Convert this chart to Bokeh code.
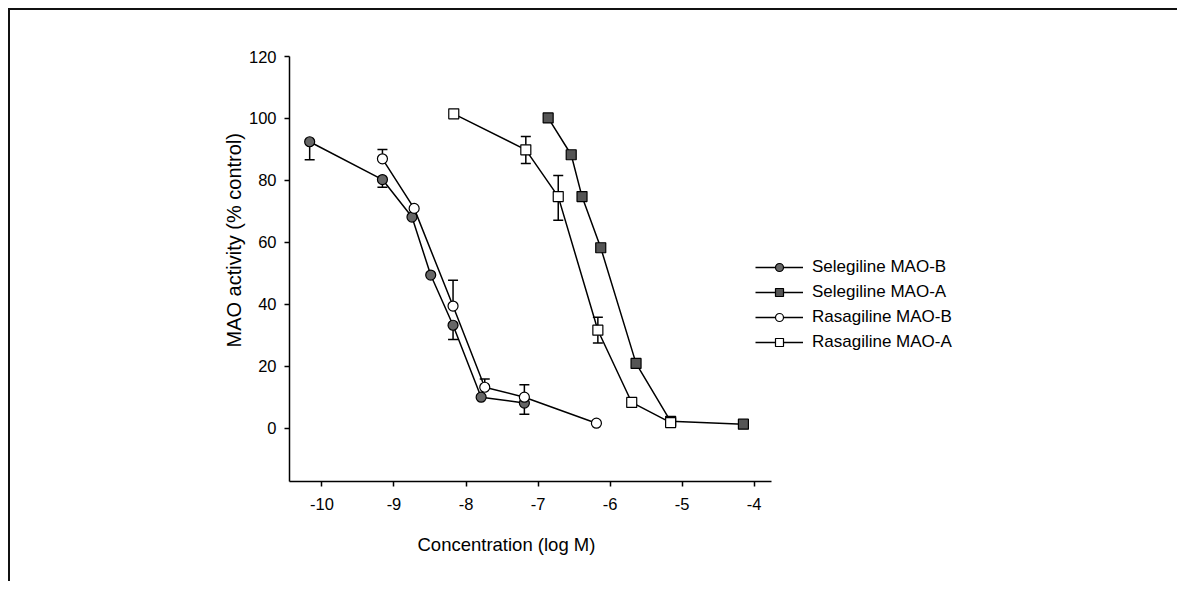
import math
from bokeh.plotting import figure
from bokeh.models import (ColumnDataSource, Whisker, TeeHead, FixedTicker,
                          Legend, LegendItem, Range1d, Title, CustomJSTickFormatter)
from bokeh.embed import file_html
from bokeh.resources import INLINE

nan = float("nan")

# ---- data (log M concentration, % control) ----
sel_b_x = [-10.17, -9.16, -8.75, -8.49, -8.18, -7.79, -7.19]
sel_b_y = [92.5, 80.3, 68.2, 49.5, 33.3, 10.1, 8.2]
sel_b_lo = [86.7, 77.8, nan, nan, 28.7, nan, 4.6]
sel_b_hi = [nan, nan, nan, nan, nan, nan, nan]

sel_a_x = [-6.86, -6.54, -6.39, -6.13, -5.64, -5.16, -4.15]
sel_a_y = [100.2, 88.3, 74.8, 58.3, 21.0, 2.3, 1.4]
sel_a_lo = [nan] * 7
sel_a_hi = [nan] * 7

ras_b_x = [-9.16, -8.72, -8.18, -7.74, -7.19, -6.19]
ras_b_y = [87.0, 71.0, 39.5, 13.3, 10.1, 1.7]
ras_b_lo = [nan] * 6
ras_b_hi = [90.0, nan, 47.8, 16.0, 14.1, nan]

ras_a_x = [-8.17, -7.17, -6.72, -6.17, -5.70, -5.16]
ras_a_y = [101.5, 89.9, 74.8, 31.7, 8.4, 1.9]
ras_a_lo = [nan, 85.5, 67.2, 27.6, nan, nan]
ras_a_hi = [nan, 94.2, 81.6, 35.9, nan, nan]

x_ticks = [-10, -9, -8, -7, -6, -5, -4]
y_ticks = [0, 20, 40, 60, 80, 100, 120]

x_title = "Concentration (log M)"
y_title = "MAO activity (% control)"

series = [
    ("Selegiline MAO-B", sel_b_x, sel_b_y, sel_b_lo, sel_b_hi, "circle", "#666666", 10),
    ("Selegiline MAO-A", sel_a_x, sel_a_y, sel_a_lo, sel_a_hi, "square", "#555555", 10),
    ("Rasagiline MAO-B", ras_b_x, ras_b_y, ras_b_lo, ras_b_hi, "circle", "white", 10),
    ("Rasagiline MAO-A", ras_a_x, ras_a_y, ras_a_lo, ras_a_hi, "square", "white", 10),
]

FONT = "Liberation Sans"

p = figure(frame_width=482, frame_height=425, output_backend="svg", toolbar_location=None,
           x_range=Range1d(-10.45, -3.76), y_range=Range1d(-17.1, 120),
           min_border_left=279, min_border_right=100,
           min_border_top=46, min_border_bottom=100)
p.styles = {"border-top": "2px solid #111111", "border-left": "2px solid #111111",
            "margin-top": "8px", "margin-left": "8px"}
p.outline_line_color = None
p.xgrid.visible = False
p.ygrid.visible = False
p.background_fill_color = "white"
p.border_fill_color = "white"

for ax in (p.xaxis[0], p.yaxis[0]):
    ax.axis_line_width = 1.5
    ax.axis_line_color = "black"
    ax.major_tick_line_width = 1.5
    ax.major_tick_line_color = "black"
    ax.major_tick_out = 5
    ax.major_tick_in = 0
    ax.minor_tick_out = 0
    ax.minor_tick_in = 0
    ax.major_label_text_font = FONT
    ax.major_label_text_font_size = "16.5px"
    ax.major_label_text_color = "black"
    ax.formatter = CustomJSTickFormatter(code="return tick.toString()")

p.xaxis.ticker = FixedTicker(ticks=x_ticks)
p.yaxis.ticker = FixedTicker(ticks=y_ticks)
p.xaxis.major_label_standoff = 11
p.yaxis.major_label_standoff = 8

# axis titles (offset like the original, which is not centred on the frame)
p.add_layout(Title(text=x_title, align="left", offset=128, standoff=38,
                   text_font=FONT, text_font_size="18.5px",
                   text_font_style="normal", text_color="black"), "below")
p.add_layout(Title(text=y_title, align="left", offset=134, standoff=1,
                   text_font=FONT, text_font_size="20px",
                   text_font_style="normal", text_color="black"), "left")


def add_whiskers(xs, ys, los, his):
    both = dict(x=[], lo=[], hi=[])
    up = dict(x=[], lo=[], hi=[])
    down = dict(x=[], lo=[], hi=[])
    for x, y, lo, hi in zip(xs, ys, los, his):
        has_lo = not math.isnan(lo)
        has_hi = not math.isnan(hi)
        if has_lo and has_hi:
            both["x"].append(x); both["lo"].append(lo); both["hi"].append(hi)
        elif has_hi:
            up["x"].append(x); up["lo"].append(y); up["hi"].append(hi)
        elif has_lo:
            down["x"].append(x); down["lo"].append(lo); down["hi"].append(y)
    for d, uh, lh in ((both, True, True), (up, True, False), (down, False, True)):
        if not d["x"]:
            continue
        w = Whisker(source=ColumnDataSource(d), base="x", lower="lo", upper="hi",
                    dimension="height", line_width=1.5, line_color="black",
                    upper_head=TeeHead(size=10, line_width=1.5, line_color="black") if uh else None,
                    lower_head=TeeHead(size=10, line_width=1.5, line_color="black") if lh else None,
                    level="underlay")
        p.add_layout(w)


items = []
for name, xs, ys, los, his, marker, fill, size in series:
    add_whiskers(xs, ys, los, his)
for name, xs, ys, los, his, marker, fill, size in series:
    src = ColumnDataSource(dict(x=xs, y=ys))
    ln = p.line("x", "y", source=src, line_color="black", line_width=1.5)
    sc = p.scatter("x", "y", source=src, marker=marker, size=size,
                   fill_color=fill, line_color="black", line_width=1.2)
    items.append(LegendItem(label=name, renderers=[ln, sc]))

legend = Legend(items=items, location=(-16, 129), padding=0, margin=0,
                spacing=5, glyph_width=48, glyph_height=20, label_height=20,
                label_standoff=9, border_line_color=None, background_fill_alpha=0,
                label_text_font=FONT, label_text_font_size="17px",
                label_text_color="black")
p.add_layout(legend, "right")

open("out.html", "w").write(file_html(p, INLINE))
